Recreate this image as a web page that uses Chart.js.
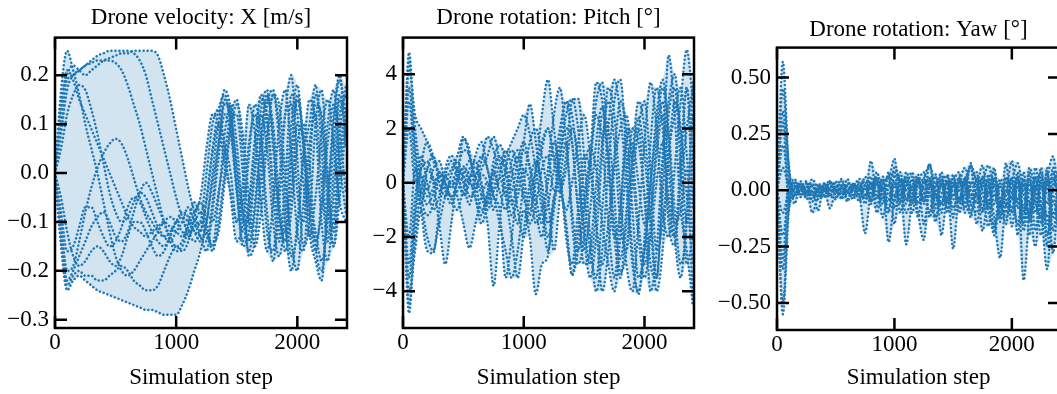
<!DOCTYPE html>
<html lang="en">
<head>
<meta charset="UTF-8">
<title>Drone telemetry</title>
<script src="https://cdn.jsdelivr.net/npm/chart.js"></script>
<style>
    html, body { margin: 0; padding: 0; background: #fff; overflow: hidden; }
    body { width: 1057px; height: 394px; position: relative; }
    canvas { position: absolute; top: 0; }
    #c1 { left: 0; }
    #c2 { left: 352px; }
    #c3 { left: 712px; }
</style>
</head>
<body>
<canvas id="c1" width="352" height="394"></canvas>
<canvas id="c2" width="350" height="394"></canvas>
<canvas id="c3" width="360" height="394"></canvas>
<script>
// simulation steps (x)
const steps = [
    0, 50, 100, 150, 200, 250, 300, 350,
    400, 450, 500, 550, 600, 650, 700, 750,
    800, 850, 900, 950, 1000, 1050, 1100, 1150,
    1200, 1250, 1300, 1350, 1400, 1450, 1500, 1550,
    1600, 1650, 1700, 1750, 1800, 1850, 1900, 1950,
    2000, 2050, 2100, 2150, 2200, 2250, 2300, 2350,
    2400
];
const stepTicks = [0, 1000, 2000];
const velTicks = [-0.3, -0.2, -0.1, 0, 0.1, 0.2];
const pitchTicks = [-4, -2, 0, 2, 4];
const yawTicks = [-0.5, -0.25, 0, 0.25, 0.5];

// Drone velocity X [m/s], one array per run
const velRun1 = [0, 0.14, 0.2, 0.22, 0.21, 0.2, 0.21, 0.22,
    0.23, 0.235, 0.24, 0.245, 0.245, 0.25, 0.25, 0.25,
    0.25, 0.24, 0.2, 0.15, 0.09, 0.03, -0.03, -0.08,
    -0.12, -0.05, 0.05, 0.13, 0.16, 0.1, -0.02, -0.12,
    -0.06, 0.07, 0.16, 0.1, -0.05, -0.14, -0.02, 0.16,
    0.12, -0.02, -0.13, -0.05, 0.08, 0.15, 0.06, -0.06,
    -0.1];
const velRun2 = [0, 0.1, 0.19, 0.2, 0.21, 0.22, 0.23, 0.24,
    0.245, 0.25, 0.25, 0.25, 0.25, 0.245, 0.23, 0.2,
    0.15, 0.1, 0.05, 0.0, -0.05, -0.09, -0.12, -0.11,
    -0.1, -0.13, -0.14, -0.12, -0.02, 0.09, 0.14, 0.08,
    -0.05, -0.15, -0.08, 0.06, 0.16, 0.1, -0.05, -0.17,
    -0.12, 0.03, 0.15, 0.1, -0.1, -0.18, -0.05, 0.12,
    0.16];
const velRun3 = [0, 0.08, 0.17, 0.2, 0.21, 0.22, 0.225, 0.23,
    0.23, 0.23, 0.225, 0.21, 0.18, 0.14, 0.1, 0.05,
    0.0, -0.05, -0.1, -0.14, -0.16, -0.15, -0.12, -0.1,
    -0.08, -0.12, -0.15, -0.05, 0.08, 0.14, 0.06, -0.08,
    -0.16, -0.08, 0.06, 0.15, 0.1, -0.05, -0.16, -0.08,
    0.06, 0.1, 0.02, -0.15, -0.2, -0.08, 0.1, 0.19,
    0.12];
const velRun4 = [0, 0.17, 0.25, 0.21, 0.16, 0.1, 0.05, 0.0,
    -0.06, -0.12, -0.17, -0.2, -0.21, -0.2, -0.18, -0.16,
    -0.14, -0.12, -0.1, -0.09, -0.1, -0.12, -0.13, -0.11,
    -0.1, 0.0, 0.1, 0.13, 0.05, -0.05, -0.14, -0.1,
    0.03, 0.14, 0.08, -0.08, -0.18, -0.06, 0.12, 0.2,
    0.03, -0.15, -0.1, 0.1, 0.17, 0.0, -0.15, -0.05,
    0.1];
const velRun5 = [0, -0.15, -0.24, -0.22, -0.21, -0.22, -0.23, -0.24,
    -0.245, -0.25, -0.255, -0.26, -0.265, -0.27, -0.275, -0.28,
    -0.28, -0.285, -0.29, -0.29, -0.29, -0.27, -0.24, -0.2,
    -0.16, -0.1, 0.0, 0.1, 0.17, 0.13, 0.0, -0.1,
    -0.1, 0.02, 0.13, 0.17, 0.05, -0.1, -0.12, 0.05,
    0.15, 0.06, -0.08, -0.16, -0.05, 0.1, 0.17, 0.02,
    -0.08];
const velRun6 = [0, -0.1, -0.2, -0.19, -0.14, -0.08, -0.03, 0.01,
    0.04, 0.06, 0.07, 0.06, 0.03, -0.01, -0.05, -0.08,
    -0.1, -0.12, -0.13, -0.12, -0.1, -0.09, -0.1, -0.12,
    -0.13, -0.16, -0.08, 0.03, 0.12, 0.08, -0.04, -0.15,
    -0.12, 0.0, 0.12, 0.05, -0.1, -0.17, -0.08, 0.1,
    0.18, 0.05, -0.12, -0.18, -0.22, -0.05, 0.12, 0.2,
    0.05];
const velRun7 = [0, -0.12, -0.22, -0.2, -0.17, -0.14, -0.11, -0.09,
    -0.08, -0.1, -0.13, -0.14, -0.12, -0.08, -0.04, -0.02,
    -0.04, -0.07, -0.1, -0.13, -0.15, -0.14, -0.1, -0.06,
    -0.08, -0.08, -0.1, -0.04, 0.04, 0.12, 0.15, 0.05,
    -0.1, -0.12, 0.02, 0.14, 0.17, 0.06, -0.1, -0.2,
    -0.1, 0.04, 0.1, 0.18, 0.05, -0.12, -0.1, 0.08,
    0.18];
const velRun8 = [0, -0.14, -0.23, -0.21, -0.2, -0.21, -0.21, -0.22,
    -0.22, -0.21, -0.2, -0.19, -0.2, -0.22, -0.23, -0.24,
    -0.24, -0.23, -0.2, -0.17, -0.15, -0.16, -0.14, -0.09,
    -0.06, -0.1, -0.16, -0.1, 0.0, 0.1, 0.12, 0.0,
    -0.17, -0.14, -0.02, 0.08, 0.16, 0.14, 0.0, -0.14,
    -0.2, -0.06, 0.05, 0.14, 0.12, -0.02, -0.12, 0.04,
    0.14];
const velRun9 = [0, 0.13, 0.21, 0.19, 0.15, 0.12, 0.09, 0.06,
    0.03, 0.0, -0.03, -0.06, -0.09, -0.11, -0.12, -0.13,
    -0.12, -0.11, -0.1, -0.11, -0.12, -0.13, -0.11, -0.08,
    -0.05, 0.05, 0.12, 0.1, 0.02, -0.04, -0.1, -0.02,
    0.14, 0.08, -0.06, -0.16, -0.06, 0.1, 0.17, 0.04,
    -0.12, -0.16, 0.0, 0.16, 0.1, -0.06, -0.15, 0.0,
    0.12];
const velRun10 = [0, -0.08, -0.16, -0.15, -0.11, -0.07, -0.07, -0.1,
    -0.13, -0.15, -0.14, -0.11, -0.07, -0.05, -0.06, -0.09,
    -0.12, -0.14, -0.15, -0.13, -0.1, -0.08, -0.09, -0.12,
    -0.14, -0.1, -0.02, 0.06, 0.14, 0.12, 0.02, -0.08,
    -0.14, -0.06, 0.08, 0.16, 0.08, -0.08, -0.14, -0.04,
    0.1, 0.07, -0.04, -0.12, -0.18, -0.1, 0.06, 0.16,
    0.08];
const velRun11 = [0, 0.05, 0.12, 0.16, 0.18, 0.17, 0.13, 0.08,
    0.02, -0.04, -0.08, -0.1, -0.09, -0.06, -0.04, -0.05,
    -0.08, -0.11, -0.13, -0.14, -0.12, -0.1, -0.07, -0.1,
    -0.13, -0.14, -0.06, 0.06, 0.15, 0.1, -0.03, -0.14,
    -0.08, 0.06, 0.15, 0.12, -0.02, -0.12, -0.14, 0.02,
    0.16, 0.08, -0.06, -0.14, -0.08, 0.06, 0.14, 0.08,
    -0.04];
const velRun12 = [0, -0.05, -0.12, -0.17, -0.19, -0.18, -0.16, -0.15,
    -0.16, -0.18, -0.19, -0.17, -0.13, -0.1, -0.1, -0.12,
    -0.15, -0.17, -0.16, -0.13, -0.1, -0.1, -0.12, -0.14,
    -0.12, -0.06, 0.04, 0.1, 0.06, 0.0, -0.1, -0.06,
    0.06, 0.12, 0.04, -0.12, -0.16, -0.02, 0.12, 0.14,
    -0.04, -0.1, 0.06, 0.12, -0.02, -0.14, 0.0, 0.15,
    0.1];

// Drone rotation: Pitch [deg]
const pitchRun1 = [0, 4.8, 1.5, -0.5, -1.2, -0.8, 0.2, 0.3,
    -0.2, 0.4, 1.2, 1.0, 0.0, -1.0, -0.5, 0.5,
    1.0, 0.3, -0.8, 0.2, 1.5, 2.9, 1.5, -0.5,
    -2.0, -0.7, 1.5, 3.0, 2.5, 0.5, -2.0, -3.5,
    -2.0, 1.0, 3.5, 2.5, -0.5, -3.0, -4.0, -1.5,
    1.5, 3.7, 2.0, -1.0, -2.0, 0.5, 3.0, 4.9,
    3.0];
const pitchRun2 = [0, -4.8, -1.5, 0.6, 1.5, 1.0, 0.3, -0.3,
    -0.8, 0.2, 1.6, 1.2, -0.5, -1.5, -0.7, 0.8,
    1.4, 0.8, -0.6, -1.5, 0.0, 1.5, 2.0, 1.0,
    -0.5, -2.5, -0.5, 1.0, 3.0, 3.1, 1.0, -2.0,
    -4.0, -2.5, 0.5, 3.0, 3.8, 1.0, -2.5, -4.1,
    -2.0, 1.5, 3.5, 2.0, -1.5, -2.3, 0.5, 3.5,
    -1.0];
const pitchRun3 = [0, 4.5, 2.0, 0.2, -0.5, -0.2, 0.4, 0.0,
    -0.5, -0.3, 0.3, 0.8, 0.2, -0.5, -1.5, -3.8,
    -1.5, 0.5, 1.2, 0.5, -0.6, -1.0, 0.5, 2.5,
    3.8, 2.0, 0.0, -1.5, -3.4, -2.5, -0.5, 1.0,
    3.0, 3.7, 1.0, -2.0, -3.5, -1.5, 1.0, 3.0,
    2.0, -1.0, -3.5, 0.5, 4.7, 2.5, -1.0, -2.5,
    -4.5];
const pitchRun4 = [0, -4.5, -2.0, -0.3, 0.5, 0.0, -1.5, -3.0,
    -1.5, 0.2, 0.5, 0.0, -0.2, 0.5, 1.0, 1.7,
    0.8, -0.5, -2.0, -3.5, -1.8, 0.0, 0.8, 0.0,
    -1.5, -0.7, 0.8, 2.0, 1.5, -1.0, -3.0, -2.5,
    0.0, 2.5, 2.0, -0.5, -3.3, -2.5, 0.5, 2.4,
    1.0, -1.5, -4.0, -2.5, 1.0, 2.5, 3.5, 1.0,
    -2.0];
const pitchRun5 = [0, 4.2, 2.5, 2.0, 1.5, 0.8, 0.4, 0.2,
    0.5, 1.0, 1.7, 1.0, 0.2, 0.8, 1.7, 1.2,
    0.5, 1.0, 1.5, 2.0, 2.5, 1.8, 0.5, -1.0,
    -2.5, -1.0, 1.0, 2.5, 3.1, 2.0, -0.5, -2.5,
    -3.5, -1.0, 2.0, 3.8, 2.5, 0.0, -3.0, -4.0,
    -2.5, 0.0, 2.5, 3.8, 2.0, -1.0, -3.0, -1.5,
    3.8];
const pitchRun6 = [0, -4.0, -2.5, -1.0, -2.0, -2.5, -1.5, -0.5,
    0.0, -0.5, -1.5, -2.4, -1.5, -0.5, 0.0, -0.5,
    -1.5, -2.5, -3.5, -2.5, -1.0, -2.0, -4.1, -3.0,
    -2.7, -0.5, -0.3, -1.5, -3.4, -1.8, 0.5, 1.3,
    0.5, -1.5, -3.0, -4.0, -2.0, 0.5, 1.5, 0.0,
    -1.5, -1.0, 1.5, 3.0, 0.5, -1.5, -1.0, 0.5,
    -4.5];
const pitchRun7 = [0, 3.5, 1.0, -1.0, -2.5, -2.6, -1.0, 0.5,
    1.0, 0.5, -0.5, 0.0, 1.0, 1.5, 0.5, -0.5,
    -1.0, -3.5, -2.0, 0.0, 1.2, 0.5, -1.0, -2.0,
    0.5, 2.5, 3.5, 1.5, -1.0, -2.5, -1.0, 1.0,
    3.7, 3.0, 0.5, -2.0, -1.0, 1.5, 2.0, 2.0,
    -0.5, -4.0, -2.5, 1.0, 3.0, 4.0, 1.5, -1.5,
    1.0];
const pitchRun8 = [0, -3.5, -1.0, 1.0, 0.0, -1.0, -0.5, 0.2,
    0.0, 0.5, 0.3, -0.5, -0.3, 0.3, 0.0, -1.0,
    0.3, 1.2, 0.5, -1.0, -2.0, -0.5, 0.5, 1.5,
    2.0, 1.0, 0.0, -1.0, 0.0, 1.5, 2.5, 1.0,
    -1.5, -4.0, -2.5, 0.5, 2.0, 2.5, 0.5, -2.0,
    -3.5, -2.0, 0.0, 1.5, -0.5, -2.0, 0.0, 2.0,
    3.5];
const pitchRun9 = [0, 3.0, 0.5, -0.8, 0.5, 1.0, 0.0, -0.5,
    0.3, 0.8, 0.0, -0.8, 0.2, 1.0, 0.5, -0.3,
    0.2, -0.5, 0.8, 1.2, 0.3, -1.2, 0.0, 1.2,
    2.0, 0.8, -0.3, 0.5, 2.0, 1.0, -1.5, -3.0,
    -1.0, 1.5, 3.0, 1.5, -1.5, -2.5, 0.0, 2.0,
    3.0, 0.5, -2.5, -1.5, 1.0, 3.0, 2.0, -0.5,
    -3.0];
const pitchRun10 = [0, -3.0, -0.5, 0.3, -0.3, 0.5, 0.8, 0.0,
    -0.6, -1.0, -0.2, 0.5, 0.8, 0.0, -1.0, -0.3,
    0.6, -0.2, -1.2, -0.5, 0.5, 0.0, -1.5, -1.0,
    0.0, 1.5, 0.5, -2.0, -3.0, -1.0, 1.0, 0.5,
    -1.5, -3.0, -1.5, 1.0, 3.0, 2.0, -1.0, -3.5,
    -2.5, 0.0, 2.0, 3.5, 1.5, -2.0, -3.5, -1.0,
    2.5];
const pitchRun11 = [0, 2.0, 0.0, 0.5, 0.8, 0.2, -0.3, 0.3,
    0.8, 0.3, -0.4, 0.2, 0.6, -0.2, -0.8, 0.2,
    1.0, 0.5, -0.3, 0.8, 1.5, 0.6, -0.5, -1.5,
    -0.8, 0.5, 2.0, 3.0, 1.5, -1.0, -2.5, -1.0,
    1.5, 2.8, 1.0, -1.5, -2.8, -1.0, 2.0, 1.5,
    -0.5, -3.0, -3.5, -0.5, 2.5, 3.5, 0.5, -3.0,
    -2.0];
const pitchRun12 = [0, -2.0, 0.5, -0.2, -0.8, -0.4, 0.3, -0.2,
    -0.5, 0.0, 0.6, 0.2, -0.6, -1.2, -0.3, 0.4,
    -0.3, -1.0, 0.2, 1.0, -0.3, -1.5, -0.8, 0.5,
    1.0, -0.3, 0.2, 1.5, -1.5, -3.0, -2.0, 0.5,
    2.5, 1.5, -1.5, -3.5, -1.0, 2.0, 1.0, -1.5,
    -3.0, -1.5, 1.0, 2.5, -1.0, -2.0, 1.0, 3.5,
    1.0];

// Drone rotation: Yaw [deg]
const yawRun1 = [0, 0.57, 0.1, -0.03, 0.02, 0.0, -0.02, 0.03,
    0.0, -0.02, 0.02, 0.01, -0.01, 0.03, 0.0, -0.04,
    0.13, -0.03, 0.06, 0.05, 0.14, -0.04, 0.02, 0.08,
    -0.03, 0.05, 0.11, 0.0, -0.06, 0.04, -0.08, 0.02,
    0.1, 0.0, -0.05, 0.06, -0.1, -0.15, -0.05, 0.03,
    0.05, 0.12, -0.02, -0.1, 0.02, -0.08, 0.05, 0.15,
    -0.05];
const yawRun2 = [0, -0.55, -0.1, 0.04, -0.02, 0.0, 0.02, -0.03,
    0.01, 0.03, -0.01, 0.0, 0.02, -0.02, 0.01, 0.04,
    -0.05, 0.08, -0.02, -0.05, 0.1, 0.03, -0.1, -0.02,
    0.06, -0.04, 0.12, -0.08, 0.05, -0.02, 0.04, -0.1,
    0.0, 0.11, 0.03, -0.08, 0.02, -0.12, -0.3, -0.06,
    -0.1, 0.02, -0.15, 0.05, -0.1, 0.04, -0.2, 0.02,
    0.08];
const yawRun3 = [0, 0.45, 0.12, -0.06, 0.03, -0.03, 0.05, 0.0,
    -0.03, 0.04, 0.0, -0.03, 0.02, 0.0, -0.02, -0.19,
    0.0, 0.05, -0.03, -0.08, 0.06, 0.04, -0.24, -0.04,
    0.07, -0.05, 0.04, -0.02, 0.08, -0.04, 0.05, -0.06,
    0.04, 0.1, -0.03, 0.06, -0.05, -0.2, -0.06, -0.12,
    -0.02, 0.06, -0.4, -0.1, 0.05, -0.05, 0.08, -0.12,
    0.04];
const yawRun4 = [0, -0.5, -0.05, 0.05, -0.01, 0.02, -0.1, -0.02,
    0.02, -0.08, 0.0, 0.05, -0.01, 0.02, 0.0, -0.02,
    0.02, -0.04, 0.05, -0.23, -0.04, 0.0, -0.06, 0.05,
    -0.1, -0.22, 0.02, -0.04, 0.03, -0.05, 0.02, -0.08,
    0.05, -0.1, 0.0, 0.11, -0.06, 0.03, -0.08, 0.05,
    0.0, -0.15, 0.03, -0.2, 0.1, -0.08, -0.35, -0.05,
    -0.12];
const yawRun5 = [0, 0.35, 0.06, 0.0, 0.04, -0.04, 0.0, -0.09,
    0.03, 0.0, 0.04, -0.02, 0.05, -0.03, 0.03, 0.0,
    0.06, -0.07, 0.03, -0.1, 0.04, -0.06, 0.08, 0.0,
    -0.05, -0.02, 0.06, -0.12, -0.02, 0.03, -0.26, -0.03,
    -0.02, 0.12, -0.15, 0.02, 0.11, 0.0, -0.1, 0.12,
    -0.1, 0.06, -0.18, 0.0, -0.05, 0.1, -0.15, -0.02,
    -0.2];
const yawRun6 = [0, -0.35, -0.08, -0.02, 0.0, 0.03, -0.04, 0.02,
    -0.01, 0.02, -0.03, 0.04, -0.04, 0.01, 0.05, 0.02,
    -0.04, 0.05, 0.0, 0.06, -0.02, 0.05, -0.04, 0.02,
    0.05, -0.15, 0.02, 0.06, -0.1, 0.07, -0.02, 0.06,
    -0.1, -0.05, 0.05, -0.18, 0.0, 0.08, -0.06, -0.02,
    0.13, -0.08, 0.05, -0.06, -0.25, 0.02, -0.06, 0.1,
    -0.08];
const yawRun7 = [0, 0.2, 0.03, 0.02, -0.03, 0.01, 0.03, -0.01,
    0.0, -0.01, 0.01, -0.02, 0.0, 0.03, -0.02, 0.06,
    0.0, 0.03, -0.06, 0.08, -0.15, 0.05, 0.0, -0.06,
    0.04, 0.0, -0.1, 0.07, -0.2, 0.0, 0.05, -0.04,
    0.04, -0.02, -0.06, 0.05, -0.02, 0.1, -0.14, 0.0,
    -0.04, 0.08, -0.08, 0.1, -0.02, -0.2, 0.04, -0.28,
    0.06];
const yawRun8 = [0, -0.2, -0.02, 0.01, 0.02, -0.02, 0.0, 0.01,
    -0.02, 0.01, 0.03, 0.0, -0.02, 0.02, 0.01, -0.03,
    0.03, 0.02, 0.04, -0.02, 0.03, -0.02, 0.06, -0.03,
    0.02, 0.05, -0.03, 0.02, 0.04, -0.06, 0.03, 0.0,
    -0.04, 0.03, 0.02, -0.05, 0.04, -0.03, 0.02, -0.07,
    0.03, -0.04, 0.02, -0.06, 0.06, -0.1, 0.01, 0.05,
    0.0];
const yawRun9 = [0, 0.3, -0.05, 0.02, -0.02, 0.03, -0.05, 0.01,
    0.02, -0.03, 0.02, -0.04, 0.03, -0.01, 0.02, -0.06,
    0.04, -0.1, 0.02, 0.06, -0.08, 0.02, 0.05, -0.1,
    0.03, 0.08, -0.12, 0.02, 0.06, -0.1, 0.03, 0.08,
    -0.08, 0.02, 0.08, -0.1, 0.05, -0.18, 0.03, -0.1,
    0.06, -0.2, 0.05, -0.12, 0.06, -0.15, 0.1, -0.18,
    0.03];
const yawRun10 = [0, -0.3, 0.05, -0.02, 0.03, -0.01, 0.02, -0.04,
    0.01, 0.04, -0.02, 0.02, -0.05, 0.03, -0.03, 0.02,
    -0.06, 0.04, -0.12, 0.02, 0.08, -0.1, 0.03, 0.06,
    -0.12, 0.04, 0.0, -0.14, 0.04, 0.06, -0.12, 0.04,
    0.02, -0.12, 0.06, 0.0, -0.16, 0.05, -0.12, 0.06,
    -0.16, 0.04, -0.1, 0.08, -0.18, 0.06, -0.25, 0.08,
    -0.15];
const yawRun11 = [0, 0.1, 0.02, -0.01, 0.01, 0.04, -0.02, 0.0,
    0.03, -0.02, -0.04, 0.02, 0.0, -0.04, 0.04, -0.02,
    0.02, 0.0, -0.04, 0.03, -0.05, 0.08, -0.04, 0.02,
    -0.06, 0.02, 0.05, -0.06, 0.02, -0.08, 0.07, -0.05,
    0.06, -0.06, -0.1, 0.04, -0.08, 0.06, -0.04, -0.15,
    0.05, -0.06, 0.08, -0.14, 0.0, 0.08, -0.12, 0.0,
    0.1];
const yawRun12 = [0, -0.1, 0.0, 0.03, -0.02, -0.01, 0.02, -0.02,
    -0.03, 0.0, 0.02, -0.03, 0.03, 0.02, -0.05, 0.01,
    -0.02, 0.06, 0.0, -0.04, 0.02, -0.05, 0.04, -0.05,
    0.05, -0.06, 0.03, -0.02, -0.06, 0.04, -0.04, 0.05,
    -0.06, 0.04, -0.02, -0.08, 0.07, -0.06, 0.05, -0.04,
    -0.08, 0.05, -0.12, 0.03, -0.06, -0.12, 0.05, -0.1,
    -0.04];

const velRuns = [velRun1, velRun2, velRun3, velRun4, velRun5, velRun6,
    velRun7, velRun8, velRun9, velRun10, velRun11, velRun12];
const pitchRuns = [pitchRun1, pitchRun2, pitchRun3, pitchRun4, pitchRun5, pitchRun6,
    pitchRun7, pitchRun8, pitchRun9, pitchRun10, pitchRun11, pitchRun12];
const yawRuns = [yawRun1, yawRun2, yawRun3, yawRun4, yawRun5, yawRun6,
    yawRun7, yawRun8, yawRun9, yawRun10, yawRun11, yawRun12];

const BLUE = '#1f77b4';
const FILL = 'rgba(31, 119, 180, 0.2)';
const FONT = 'Liberation Serif';
const SIZE = 23;
const minus = s => s.replace('-', '\u2212');

// frame + inward ticks on all four sides (matplotlib style)
const frameTicks = {
    id: 'frameTicks',
    afterDatasetsDraw(chart) {
        const { ctx, chartArea: a, scales: { x, y } } = chart;
        const len = 12;
        ctx.save();
        ctx.strokeStyle = '#000';
        ctx.lineWidth = 2.5;
        ctx.beginPath();
        x.ticks.forEach(t => {
            const px = x.getPixelForValue(t.value);
            ctx.moveTo(px, a.bottom); ctx.lineTo(px, a.bottom - len);
            ctx.moveTo(px, a.top); ctx.lineTo(px, a.top + len);
        });
        y.ticks.forEach(t => {
            const py = y.getPixelForValue(t.value);
            ctx.moveTo(a.left, py); ctx.lineTo(a.left + len, py);
            ctx.moveTo(a.right, py); ctx.lineTo(a.right - len, py);
        });
        ctx.stroke();
        ctx.strokeRect(a.left, a.top, a.right - a.left, a.bottom - a.top);
        ctx.restore();
    }
};

function makePanel(id, title, runs, y, box) {
    const pts = arr => steps.map((s, i) => ({ x: s, y: arr[i] }));
    const upper = steps.map((s, i) => Math.max(...runs.map(r => r[i])));
    const lower = steps.map((s, i) => Math.min(...runs.map(r => r[i])));

    const datasets = [
        { data: pts(upper), fill: '+1', backgroundColor: FILL, borderWidth: 0, order: 10 },
        { data: pts(lower), fill: false, borderWidth: 0, order: 11 }
    ];
    runs.forEach(r => datasets.push({
        data: pts(r),
        borderColor: BLUE,
        borderWidth: 2.5,
        borderDash: [0.1, 3.9],
        borderCapStyle: 'round',
        fill: false,
        order: 0
    }));

    return new Chart(document.getElementById(id), {
        type: 'line',
        data: { datasets },
        plugins: [frameTicks],
        options: {
            responsive: false,
            animation: false,
            events: [],
            layout: { padding: { left: 0, right: box.right, top: 0, bottom: 0 } },
            elements: {
                point: { radius: 0 },
                line: { cubicInterpolationMode: 'monotone' }
            },
            plugins: {
                legend: { display: false },
                tooltip: { enabled: false },
                title: {
                    display: true,
                    fullSize: false,
                    text: title,
                    color: '#000',
                    font: { family: FONT, size: SIZE, weight: 'normal' },
                    padding: { top: box.titleTop, bottom: box.titleBottom }
                }
            },
            scales: {
                x: {
                    type: 'linear',
                    min: 0,
                    max: 2410,
                    grid: { display: false, drawTicks: false },
                    border: { display: false },
                    afterBuildTicks: s => { s.ticks = stepTicks.map(v => ({ value: v })); },
                    ticks: {
                        maxRotation: 0,
                        autoSkip: false,
                        padding: 1,
                        color: '#000',
                        font: { family: FONT, size: SIZE },
                        callback: v => String(v)
                    },
                    title: {
                        display: true,
                        text: 'Simulation step',
                        color: '#000',
                        font: { family: FONT, size: SIZE },
                        padding: { top: 0, bottom: 2 }
                    },
                    afterFit: s => { s.height = box.xHeight; }
                },
                y: {
                    min: y.min,
                    max: y.max,
                    grid: { display: false, drawTicks: false },
                    border: { display: false },
                    afterBuildTicks: s => { s.ticks = y.ticks.map(v => ({ value: v })); },
                    ticks: {
                        autoSkip: false,
                        padding: 6,
                        color: '#000',
                        font: { family: FONT, size: SIZE },
                        callback: y.fmt
                    },
                    afterFit: s => { s.width = box.yWidth; }
                }
            }
        }
    });
}

makePanel('c1', 'Drone velocity: X [m/s]', velRuns,
    { min: -0.317, max: 0.277, ticks: velTicks, fmt: v => minus(Math.abs(v) < 1e-9 ? '0.0' : v.toFixed(1)) },
    { yWidth: 55, right: 5, titleTop: 4, titleBottom: 6, xHeight: 66 });

makePanel('c2', 'Drone rotation: Pitch [\u00b0]', pitchRuns,
    { min: -5.35, max: 5.35, ticks: pitchTicks, fmt: v => minus(String(Math.round(v))) },
    { yWidth: 51, right: 8, titleTop: 4, titleBottom: 6, xHeight: 66 });

makePanel('c3', 'Drone rotation: Yaw [\u00b0]', yawRuns,
    { min: -0.62, max: 0.633, ticks: yawTicks, fmt: v => minus(Math.abs(v) < 1e-9 ? '0.00' : v.toFixed(2)) },
    { yWidth: 65, right: 12, titleTop: 16, titleBottom: 4, xHeight: 64 });
</script>
</body>
</html>
